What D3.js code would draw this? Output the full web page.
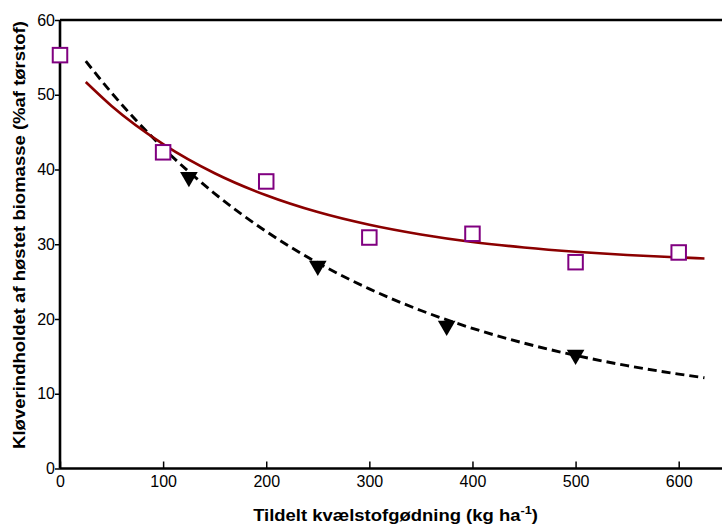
<!DOCTYPE html>
<html>
<head>
<meta charset="utf-8">
<script src="https://cdn.jsdelivr.net/npm/d3@7"></script>
<style>
  html, body { margin: 0; padding: 0; background: #fff; }
  svg { display: block; }
  text { font-family: "Liberation Sans", Arial, sans-serif; }
</style>
</head>
<body>
<svg id="chart" width="722" height="528"></svg>
<script>
// Observed clover content, open squares (kg N ha-1 vs % of dry matter)
const squareN = [0, 100, 200, 300, 400, 500, 600];
const squareClover = [55.3, 42.3, 38.4, 30.9, 31.4, 27.6, 28.9];

// Observed clover content, filled triangles
const triangleN = [125, 250, 375, 500];
const triangleClover = [39.0, 27.1, 19.1, 15.2];

// Fitted response curves, sampled along the N range
const curveN = [25, 50, 100, 150, 200, 250, 300, 350, 400, 450, 500, 550, 600, 625];
const solidFit = [51.7, 48.5, 43.4, 39.5, 36.55, 34.3, 32.6, 31.3, 30.3, 29.57, 29.0, 28.56, 28.24, 28.1];
const dashedFit = [54.5, 50.26, 42.89, 36.78, 31.71, 27.51, 24.03, 21.14, 18.75, 16.77, 15.13, 13.76, 12.63, 12.14];

const xTicks = [0, 100, 200, 300, 400, 500, 600];
const yTicks = [0, 10, 20, 30, 40, 50, 60];

const svg = d3.select("#chart");
const plotLeft = 60, plotRight = 722, plotTop = 20, plotBottom = 468.5;

const x = d3.scaleLinear().domain([0, 642]).range([plotLeft, plotRight]);
const y = d3.scaleLinear().domain([0, 60]).range([plotBottom, plotTop]);

// Top frame line
svg.append("line")
  .attr("x1", plotLeft).attr("x2", plotRight)
  .attr("y1", plotTop).attr("y2", plotTop)
  .attr("stroke", "#000").attr("stroke-width", 2.5);

// X axis: ticks point into the plot
const xAxis = svg.append("g")
  .attr("transform", `translate(0,${plotBottom})`)
  .call(d3.axisBottom(x).tickValues(xTicks).tickSize(0).tickPadding(7));
xAxis.select(".domain").attr("stroke-width", 2.6).attr("d", `M${plotLeft},0H${plotRight}`);
xAxis.selectAll(".tick").append("line")
  .attr("y1", 0).attr("y2", -7).attr("stroke", "#000").attr("stroke-width", 1.5);
xAxis.selectAll(".tick text").attr("font-size", 16).attr("fill", "#000");

// Y axis: outward ticks
const yAxis = svg.append("g")
  .attr("transform", `translate(${plotLeft},0)`)
  .call(d3.axisLeft(y).tickValues(yTicks).tickSize(5).tickPadding(0));
yAxis.select(".domain").attr("stroke-width", 2.6).attr("d", `M0,${plotTop}V${plotBottom}`);
yAxis.selectAll(".tick line").attr("stroke-width", 1.5);
yAxis.selectAll(".tick text").attr("font-size", 16).attr("fill", "#000");

// Fitted curves
const line = d3.line().x(d => x(d[0])).y(d => y(d[1])).curve(d3.curveMonotoneX);

svg.append("path")
  .datum(curveN.map((n, i) => [n, dashedFit[i]]))
  .attr("d", line)
  .attr("fill", "none")
  .attr("stroke", "#000")
  .attr("stroke-width", 2.9)
  .attr("stroke-dasharray", "9,5");

svg.append("path")
  .datum(curveN.map((n, i) => [n, solidFit[i]]))
  .attr("d", line)
  .attr("fill", "none")
  .attr("stroke", "#8b0000")
  .attr("stroke-width", 2.6);

// Open squares
const sq = 14.5;
svg.append("g").selectAll("rect")
  .data(squareN.map((n, i) => [n, squareClover[i]]))
  .join("rect")
  .attr("x", d => x(d[0]) - sq / 2)
  .attr("y", d => y(d[1]) - sq / 2)
  .attr("width", sq).attr("height", sq)
  .attr("fill", "#fff")
  .attr("stroke", "#800080")
  .attr("stroke-width", 2);

// Filled downward triangles
const tri = d3.symbol().type(d3.symbolTriangle).size(135);
svg.append("g").selectAll("path")
  .data(triangleN.map((n, i) => [n, triangleClover[i]]))
  .join("path")
  .attr("d", tri)
  .attr("transform", d => `translate(${x(d[0])},${y(d[1])}) rotate(180)`)
  .attr("fill", "#000");

// Axis titles, stretched along their run to fill the available length
function fitAlong(sel, cx, cy, angle, span) {
  const w = sel.node().getComputedTextLength();
  const s = span / w;
  sel.attr("transform", `translate(${cx},${cy}) rotate(${angle}) scale(${s},1)`);
}

const yTitle = svg.append("text")
  .attr("text-anchor", "middle")
  .attr("font-size", 16)
  .attr("font-weight", "bold")
  .text("Kløverindholdet af høstet biomasse (%af tørstof)");
fitAlong(yTitle, 24.5, 235, -90, 428);

const xTitle = svg.append("text")
  .attr("text-anchor", "middle")
  .attr("font-size", 16)
  .attr("font-weight", "bold");
xTitle.append("tspan").text("Tildelt kvælstofgødning (kg ha");
xTitle.append("tspan").attr("dy", -7).attr("font-size", 11).text("-1");
xTitle.append("tspan").attr("dy", 7).text(")");
fitAlong(xTitle, 395.5, 521, 0, 285);
</script>
</body>
</html>
